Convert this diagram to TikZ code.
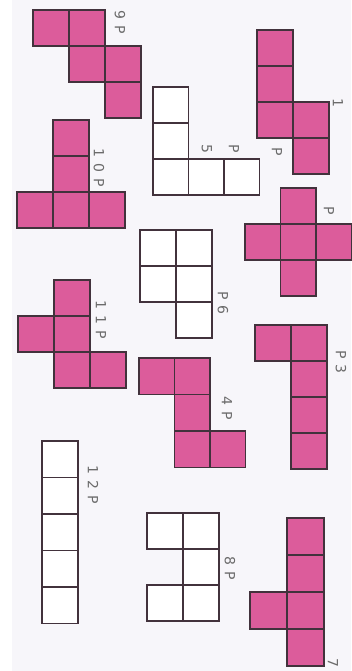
\documentclass[tikz,border=0pt]{standalone}
\usepackage{fontspec}
\usepackage{xcolor}
\usepackage{tikz}
\newfontfamily\handfont[LetterSpace=45]{DejaVu Sans}
\definecolor{pinkfill}{RGB}{220,92,155}
\definecolor{penline}{RGB}{66,50,60}
\definecolor{paper}{RGB}{247,246,250}

\begin{document}
\begin{tikzpicture}[
  x=1pt,y=-1pt,
  pinkcell/.style={draw=penline,fill=pinkfill,line width=1.3pt},
  whitecell/.style={draw=penline,fill=white,line width=1.3pt},
  lab/.style={font=\handfont\fontsize{14}{14}\selectfont,text=black!58,
              rotate=-90,inner sep=0pt}
]
% ---- Paper ----
\fill[white] (0,0) rectangle (351,671);
\fill[paper] (12,0) rectangle (351,671);
\useasboundingbox (0,0) rectangle (351,671);
% ---- Top row: W, N, V, T ----
\foreach \i/\j in {0/0,1/0,1/1,2/1,2/2}
  \draw[pinkcell] (33+36*\i,10+36*\j) rectangle ++(36,36);
\foreach \i/\j in {0/0,0/1,0/2,1/2,1/3}
  \draw[pinkcell] (257+36*\i,30+36*\j) rectangle ++(36,36);
\foreach \i/\j in {0/0,0/1,0/2,1/2,2/2}
  \draw[whitecell] (153+35.5*\i,87+36*\j) rectangle ++(35.5,36);
\foreach \i/\j in {1/0,1/1,0/2,1/2,2/2}
  \draw[pinkcell] (17+36*\i,120+36*\j) rectangle ++(36,36);
% ---- Middle: X, P, F ----
\foreach \i/\j in {1/0,0/1,1/1,2/1,1/2}
  \draw[pinkcell] (245+35.5*\i,188+36*\j) rectangle ++(35.5,36);
\foreach \i/\j in {0/0,0/1,1/0,1/1,1/2}
  \draw[whitecell] (140+36*\i,230+36*\j) rectangle ++(36,36);
\foreach \i/\j in {1/0,0/1,1/1,1/2,2/2}
  \draw[pinkcell] (18+36*\i,280+36*\j) rectangle ++(36,36);
% ---- Middle: L, Z ----
\foreach \i/\j in {0/0,1/0,1/1,1/2,1/3}
  \draw[pinkcell] (255+36*\i,325+36*\j) rectangle ++(36,36);
\foreach \i/\j in {0/0,1/0,1/1,1/2,2/2}
  \draw[pinkcell] (139+35.5*\i,358+36.5*\j) rectangle ++(35.5,36.5);
% ---- Bottom: I, U, Y ----
\foreach \j in {0,...,4}
  \draw[whitecell] (42,441+36.5*\j) rectangle ++(36,36.5);
\foreach \i/\j in {0/0,1/0,1/1,1/2,0/2}
  \draw[whitecell] (147+36*\i,513+36*\j) rectangle ++(36,36);
\foreach \i/\j in {1/0,1/1,0/2,1/2,1/3}
  \draw[pinkcell] (250+37*\i,518+37*\j) rectangle ++(37,37);
% ---- Labels ----
\node[lab] (t9)  at (120,22)  {9P};
\node[lab] (t1a) at (338,103) {1};
\node[lab] (t1b) at (277,152) {P};
\node[lab] (t10) at (99,168)  {10P};
\node[lab] (t5a) at (207,149) {5};
\node[lab] (t5b) at (234,149) {P};
\node[lab] (t2)  at (329,211) {P};
\node[lab] (t11) at (101,320) {11P};
\node[lab] (t6)  at (223,303) {P6};
\node[lab] (t3)  at (341,362) {P3};
\node[lab] (t4)  at (227,408) {4P};
\node[lab] (t12) at (93,485)  {12P};
\node[lab] (t8)  at (230,568) {8P};
\node[lab] (t7)  at (333,663) {7};
\end{tikzpicture}
\end{document}
